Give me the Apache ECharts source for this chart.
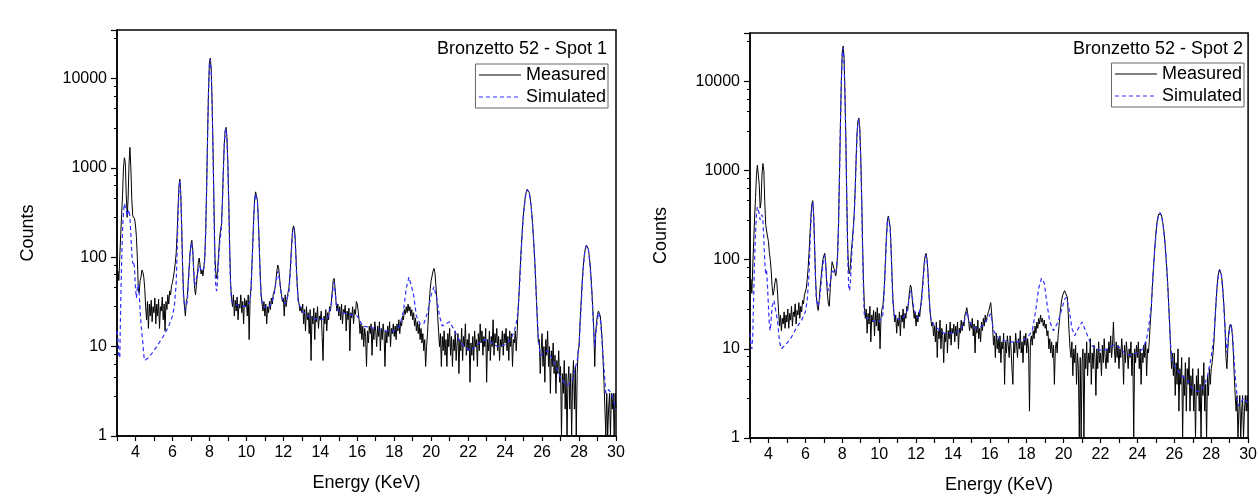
<!DOCTYPE html>
<html>
<head>
<meta charset="UTF-8">
<title>XRF spectra</title>
<script src="https://cdn.jsdelivr.net/npm/echarts@6/dist/echarts.min.js"></script>
</head>
<body style="margin:0;background:#fff;">
<div id="chart" style="width:1260px;height:499px;"></div>
<script>
// detector channels: 3.00 keV to 30.00 keV, 0.05 keV apart
var energyStart = 3;
var energyStep = 0.05;

var yTickLabels = [1, 10, 100, 1000, 10000];
var seriesNames = ['Measured', 'Simulated'];
var titles = ['Bronzetto 52 - Spot 1', 'Bronzetto 52 - Spot 2'];

// spot 1, measured counts (one row per keV)
var measured1 = [
    45, 70, 55, 100, 180, 300, 500, 1000, 1300, 1150, 500, 280, 450, 1100, 1700, 1000, 450, 290, 280, 270,
    230, 170, 100, 45, 40, 55, 60, 72, 68, 60, 45, 28, 20, 32, 16, 30, 22, 33, 19, 28,
    24, 35, 18, 30, 22, 34, 16, 28, 25, 36, 20, 30, 15, 32, 26, 38, 30, 42, 38, 48,
    52, 60, 70, 85, 110, 180, 340, 620, 750, 520, 220, 80, 40, 28, 22, 32, 35, 50, 75, 110,
    140, 155, 120, 70, 45, 38, 50, 65, 88, 98, 80, 65, 72, 62, 78, 100, 200, 600, 2200, 7000,
    15000, 17000, 12500, 5000, 1500, 350, 100, 65, 58, 75, 110, 160, 200, 230, 400, 900, 1800, 2600, 2850, 2200,
    1100, 400, 120, 50, 35, 28, 38, 22, 33, 25, 36, 20, 30, 27, 38, 24, 32, 18, 35, 28,
    33, 22, 38, 12, 34, 45, 80, 150, 290, 450, 540, 550, 430, 260, 130, 65, 38, 30, 25, 32,
    22, 30, 18, 28, 24, 32, 26, 35, 30, 38, 40, 45, 55, 70, 82, 75, 58, 45, 38, 32,
    35, 22, 38, 28, 34, 40, 45, 60, 90, 140, 200, 225, 210, 150, 85, 50, 35, 30, 25, 28,
    24, 30, 18, 26, 15, 28, 20, 24, 14, 26, 7, 22, 18, 27, 12, 24, 19, 28, 16, 22,
    20, 25, 13, 7, 22, 18, 26, 15, 24, 20, 28, 25, 32, 42, 55, 58, 45, 32, 25, 30,
    22, 28, 20, 30, 18, 26, 24, 29, 15, 25, 20, 27, 9, 24, 21, 28, 18, 26, 23, 32,
    30, 25, 20, 14, 18, 12, 17, 10, 16, 13, 6, 15, 11, 17, 14, 18, 8, 16, 12, 19,
    15, 10, 17, 13, 19, 9, 16, 12, 18, 14, 6, 15, 11, 17, 13, 19, 10, 16, 14, 18,
    13, 17, 12, 18, 15, 20, 14, 19, 17, 22, 20, 26, 23, 28, 24, 30, 25, 28, 22, 26,
    20, 24, 17, 21, 15, 19, 14, 18, 12, 16, 11, 14, 9, 12, 6, 10, 14, 22, 32, 45,
    55, 62, 70, 75, 68, 50, 35, 22, 15, 10, 14, 6, 13, 9, 15, 8, 12, 6, 14, 10,
    16, 8, 13, 6, 12, 9, 15, 7, 11, 14, 5, 12, 9, 16, 7, 13, 10, 18, 8, 12,
    9, 14, 4, 11, 8, 13, 7, 15, 10, 12, 6, 14, 9, 18, 11, 15, 8, 13, 10, 16,
    4, 12, 9, 15, 7, 13, 10, 20, 8, 14, 11, 16, 9, 13, 7, 12, 10, 15, 8, 14,
    11, 16, 9, 13, 7, 15, 10, 14, 6, 12, 11, 15, 9, 14, 25, 38, 65, 105, 160, 235,
    320, 405, 490, 545, 578, 575, 535, 470, 385, 300, 215, 148, 95, 58, 32, 18, 11, 12, 5, 9,
    14, 6, 10, 4, 12, 8, 15, 6, 10, 3, 9, 6, 11, 5, 8, 3, 7, 5, 9, 4,
    6, 1, 5, 3, 7, 2, 5, 1, 4, 6, 2, 5, 1, 4, 7, 2, 6, 1, 5, 9,
    10, 18, 28, 45, 65, 90, 112, 128, 137, 135, 125, 105, 82, 60, 40, 25, 15, 6, 14, 19,
    23, 25, 25, 22, 17, 12, 7, 4, 2, 1, 3, 1, 2, 3, 1, 3, 2, 3, 1, 3,
    2
];

// spot 2, measured counts
var measured2 = [
    45, 60, 42, 85, 160, 300, 500, 900, 1150, 1200, 700, 380, 450, 900, 1200, 1000, 450, 250, 210, 220,
    160, 120, 100, 75, 50, 40, 45, 55, 62, 58, 40, 26, 18, 24, 16, 22, 19, 26, 17, 24,
    20, 28, 17, 25, 21, 30, 18, 26, 23, 32, 19, 27, 24, 33, 22, 30, 26, 35, 32, 40,
    42, 48, 60, 80, 120, 190, 300, 420, 460, 330, 150, 65, 38, 30, 27, 35, 48, 62, 80, 100,
    110, 118, 95, 60, 40, 32, 30, 48, 70, 95, 100, 80, 72, 66, 80, 120, 260, 900, 3200, 10000,
    21000, 25000, 18000, 7000, 2000, 450, 130, 75, 70, 90, 130, 170, 230, 330, 600, 1300, 2600, 3600, 3900, 3000,
    1500, 550, 160, 60, 30, 22, 28, 15, 25, 19, 30, 12, 24, 20, 27, 14, 26, 18, 29, 16,
    25, 10, 22, 28, 30, 40, 60, 110, 190, 280, 310, 300, 230, 130, 65, 35, 25, 20, 24, 15,
    22, 18, 26, 14, 24, 20, 28, 17, 25, 22, 30, 27, 35, 45, 52, 48, 35, 28, 22, 26,
    18, 24, 20, 26, 23, 30, 38, 50, 70, 95, 112, 118, 100, 70, 42, 28, 22, 18, 20, 14,
    18, 12, 20, 8, 16, 13, 21, 10, 17, 14, 7, 15, 12, 19, 9, 16, 13, 20, 11, 17,
    15, 19, 12, 18, 14, 20, 10, 17, 15, 21, 16, 20, 18, 24, 26, 29, 25, 21, 16, 20,
    17, 22, 14, 19, 9, 18, 15, 21, 13, 17, 12, 20, 16, 22, 18, 24, 20, 23, 22, 27,
    30, 33, 25, 18, 11, 14, 8, 15, 10, 13, 9, 14, 7, 12, 10, 15, 4, 12, 9, 14,
    11, 8, 14, 10, 6, 4, 12, 9, 15, 11, 8, 13, 10, 16, 9, 12, 7, 14, 11, 15,
    9, 13, 10, 2, 12, 14, 11, 16, 13, 18, 15, 20, 17, 22, 19, 24, 20, 22, 18, 21,
    17, 19, 14, 16, 10, 13, 9, 12, 8, 11, 4, 10, 12, 9, 14, 18, 24, 30, 36, 40,
    42, 45, 44, 46, 38, 25, 15, 10, 8, 12, 5, 10, 7, 11, 4, 9, 6, 1, 8, 1,
    7, 10, 1, 9, 6, 12, 5, 9, 7, 13, 4, 9, 6, 11, 8, 3, 10, 6, 12, 7,
    9, 5, 11, 7, 13, 8, 6, 10, 7, 12, 9, 14, 8, 11, 20, 10, 7, 12, 8, 11,
    6, 10, 8, 13, 9, 4, 11, 7, 12, 9, 6, 10, 8, 12, 5, 9, 1, 10, 7, 11,
    8, 12, 6, 10, 4, 9, 7, 11, 8, 12, 5, 10, 9, 13, 20, 28, 45, 70, 100, 145,
    195, 250, 295, 325, 340, 338, 318, 285, 240, 195, 150, 108, 75, 50, 30, 18, 10, 6, 9, 5,
    9, 3, 7, 4, 10, 2, 6, 4, 8, 1, 5, 3, 7, 2, 6, 4, 8, 2, 5, 3,
    6, 2, 4, 1, 5, 3, 6, 2, 4, 1, 5, 3, 7, 2, 4, 1, 5, 3, 6, 4,
    6, 7, 9, 12, 20, 30, 45, 60, 72, 78, 76, 68, 56, 40, 28, 17, 8, 6, 10, 15,
    18, 19, 18, 14, 9, 5, 3, 2, 3, 1, 2, 3, 1, 2, 3, 1, 2, 3, 2, 3,
    2
];

// simulated spectra, [energy keV, counts]
var simulated1 = [
    [3.0, 15], [3.05, 12], [3.1, 8], [3.15, 7.5], [3.2, 30], [3.25, 90], [3.3, 200], [3.35, 320], [3.4, 400],
    [3.45, 400], [3.5, 330], [3.55, 290], [3.6, 320], [3.65, 340], [3.7, 280], [3.75, 180], [3.8, 110],
    [3.85, 85], [3.9, 90], [3.95, 75], [4.0, 45], [4.05, 35], [4.1, 45], [4.15, 50], [4.2, 40], [4.25, 25],
    [4.3, 18], [4.35, 14], [4.4, 11], [4.45, 8], [4.5, 7], [4.7, 7.5], [5.0, 9], [5.5, 13], [5.8, 17],
    [6.0, 22], [6.1, 28], [6.2, 50], [6.25, 110], [6.3, 280], [6.35, 560], [6.4, 720], [6.45, 520],
    [6.5, 220], [6.55, 75], [6.6, 35], [6.7, 26], [6.8, 32], [6.9, 70], [6.95, 105], [7.0, 135],
    [7.05, 145], [7.1, 115], [7.15, 72], [7.2, 48], [7.3, 50], [7.4, 72], [7.45, 80], [7.5, 76], [7.6, 70],
    [7.7, 75], [7.75, 95], [7.8, 190], [7.85, 580], [7.9, 2100], [7.95, 6800], [8.0, 14500], [8.05, 16500],
    [8.1, 12000], [8.15, 4800], [8.2, 1400], [8.25, 300], [8.3, 80], [8.35, 45], [8.4, 42], [8.45, 60],
    [8.5, 95], [8.55, 140], [8.6, 170], [8.65, 210], [8.7, 380], [8.75, 850], [8.8, 1700], [8.85, 2500],
    [8.9, 2750], [8.95, 2100], [9.0, 1000], [9.05, 350], [9.1, 100], [9.15, 45], [9.2, 32], [9.5, 29],
    [10.0, 28], [10.2, 32], [10.25, 42], [10.3, 75], [10.35, 140], [10.4, 270], [10.45, 430], [10.5, 510],
    [10.55, 520], [10.6, 410], [10.65, 245], [10.7, 120], [10.75, 60], [10.8, 36], [10.9, 28], [11.2, 27],
    [11.4, 32], [11.5, 38], [11.6, 52], [11.7, 70], [11.75, 68], [11.8, 55], [11.9, 36], [12.1, 30],
    [12.3, 40], [12.4, 80], [12.45, 130], [12.5, 190], [12.55, 210], [12.6, 195], [12.65, 140], [12.7, 75],
    [12.8, 32], [13.0, 25], [13.5, 21], [14.0, 20], [14.4, 21], [14.6, 30], [14.7, 48], [14.75, 52],
    [14.8, 42], [14.9, 26], [15.2, 24], [15.6, 23], [16.0, 22], [16.3, 17], [17.0, 16], [17.5, 15],
    [18.0, 15], [18.3, 17], [18.5, 25], [18.65, 45], [18.8, 60], [18.9, 58], [19.05, 38], [19.2, 22],
    [19.4, 18], [19.6, 18], [19.8, 24], [20.0, 38], [20.15, 47], [20.3, 35], [20.45, 22], [20.6, 17],
    [20.8, 18], [21.0, 19], [21.2, 16], [21.5, 12], [21.8, 10], [22.1, 9], [22.4, 10], [22.7, 11.5],
    [23.0, 12], [23.3, 11], [23.6, 10], [24.0, 10.5], [24.3, 12], [24.5, 15], [24.6, 18], [24.7, 25],
    [24.8, 55], [24.9, 150], [25.0, 310], [25.1, 480], [25.2, 570], [25.25, 575], [25.3, 535], [25.4, 385],
    [25.5, 215], [25.6, 95], [25.7, 32], [25.8, 12], [25.9, 8], [26.0, 8], [26.3, 9], [26.6, 7], [27.0, 4.5],
    [27.3, 3.7], [27.6, 4], [27.9, 7], [28.0, 10], [28.1, 25], [28.2, 62], [28.3, 110], [28.4, 135],
    [28.45, 134], [28.5, 125], [28.6, 80], [28.7, 38], [28.8, 14], [28.85, 10], [28.95, 17], [29.05, 24],
    [29.15, 21], [29.3, 8], [29.45, 3], [29.6, 3.3], [29.75, 3], [30.0, 2]
];

var simulated2 = [
    [3.0, 15], [3.05, 11], [3.1, 10], [3.15, 14], [3.2, 40], [3.25, 100], [3.3, 200], [3.35, 320], [3.4, 390],
    [3.45, 400], [3.5, 330], [3.55, 280], [3.6, 300], [3.65, 320], [3.7, 270], [3.75, 170], [3.8, 95],
    [3.85, 70], [3.9, 75], [3.95, 50], [4.0, 30], [4.05, 18], [4.1, 16], [4.15, 22], [4.2, 30], [4.3, 35],
    [4.4, 34], [4.5, 20], [4.6, 12], [4.7, 10], [4.9, 11], [5.2, 13], [5.5, 17], [5.8, 21], [6.0, 26],
    [6.1, 35], [6.2, 70], [6.25, 140], [6.3, 260], [6.35, 390], [6.4, 440], [6.45, 320], [6.5, 140],
    [6.55, 60], [6.6, 35], [6.7, 30], [6.8, 40], [6.9, 70], [7.0, 105], [7.05, 112], [7.1, 90], [7.15, 58],
    [7.25, 45], [7.35, 55], [7.45, 75], [7.55, 72], [7.65, 70], [7.75, 110], [7.8, 250], [7.85, 850],
    [7.9, 3000], [7.95, 9500], [8.0, 20000], [8.05, 24000], [8.1, 17000], [8.15, 6500], [8.2, 1800],
    [8.25, 400], [8.3, 100], [8.35, 50], [8.4, 45], [8.45, 60], [8.5, 100], [8.55, 150], [8.6, 210],
    [8.65, 310], [8.7, 580], [8.75, 1250], [8.8, 2500], [8.85, 3500], [8.9, 3800], [8.95, 2900],
    [9.0, 1400], [9.05, 500], [9.1, 140], [9.15, 45], [9.2, 23], [9.6, 21], [10.0, 20], [10.2, 24],
    [10.25, 35], [10.3, 55], [10.35, 100], [10.4, 180], [10.45, 265], [10.5, 300], [10.55, 290],
    [10.6, 220], [10.65, 125], [10.7, 60], [10.75, 32], [10.85, 22], [11.2, 21], [11.5, 26], [11.6, 33],
    [11.7, 45], [11.75, 47], [11.8, 38], [11.9, 27], [12.1, 22], [12.3, 33], [12.4, 62], [12.45, 88],
    [12.5, 105], [12.55, 112], [12.6, 98], [12.65, 68], [12.7, 40], [12.8, 22], [13.0, 18], [13.5, 15],
    [14.0, 15], [14.4, 16], [14.6, 20], [14.75, 26], [14.9, 20], [15.2, 17], [15.6, 18], [15.9, 22],
    [16.05, 25], [16.2, 16], [16.5, 13], [17.0, 12], [17.5, 12], [18.0, 13], [18.3, 16], [18.5, 28],
    [18.65, 48], [18.8, 62], [18.95, 55], [19.1, 32], [19.25, 20], [19.45, 16], [19.7, 20], [19.9, 28],
    [20.05, 36], [20.15, 38], [20.3, 28], [20.45, 17], [20.6, 14], [20.8, 17], [21.0, 20], [21.1, 20],
    [21.3, 14], [21.5, 11], [21.8, 10], [22.1, 9.5], [22.4, 10], [22.7, 11], [23.0, 10.5], [23.3, 9],
    [23.6, 8.5], [24.0, 9], [24.3, 10], [24.5, 13], [24.65, 20], [24.75, 30], [24.85, 68], [24.95, 140],
    [25.05, 245], [25.15, 320], [25.22, 338], [25.3, 315], [25.4, 240], [25.5, 150], [25.6, 75],
    [25.7, 30], [25.8, 11], [25.9, 7], [26.1, 6], [26.4, 5], [26.7, 4.5], [27.0, 3.5], [27.3, 3.3],
    [27.6, 3.8], [27.8, 5], [28.0, 8], [28.15, 14], [28.3, 44], [28.4, 70], [28.47, 77], [28.55, 68],
    [28.65, 40], [28.75, 17], [28.85, 9], [28.95, 14], [29.05, 19], [29.15, 15], [29.3, 5], [29.45, 2.3],
    [29.6, 2.5], [29.75, 2.8], [29.9, 2.6], [30.0, 2.5]
];

var chart = echarts.init(document.getElementById('chart'), null, {renderer: 'canvas'});
var font = 'Arial, "Liberation Sans", sans-serif';

function withEnergy(counts) {
    var pts = [];
    for (var i = 0; i < counts.length; i++) {
        pts.push([+(energyStart + i * energyStep).toFixed(2), counts[i]]);
    }
    return pts;
}

function xAxisFor(index) {
    return {
        type: 'value', gridIndex: index, min: 3, max: 30, interval: 1,
        name: 'Energy (KeV)', nameLocation: 'middle', nameGap: 38,
        nameTextStyle: {fontSize: 18, color: '#000', fontFamily: font},
        axisLine: {onZero: false, lineStyle: {color: '#000', width: 1.5}},
        axisTick: {length: 5, lineStyle: {color: '#000', width: 1.2}},
        axisLabel: {
            fontSize: 16, color: '#000', fontFamily: font, margin: 9,
            formatter: function (v) { return v % 2 === 0 ? String(v) : ''; }
        },
        splitLine: {show: false}
    };
}

function yAxisFor(index) {
    return {
        type: 'log', logBase: 10, gridIndex: index, min: 1, max: 35000,
        name: 'Counts', nameLocation: 'middle', nameGap: 80,
        nameTextStyle: {fontSize: 18, color: '#000', fontFamily: font},
        axisLine: {lineStyle: {color: '#000', width: 1.5}},
        axisTick: {length: 6, lineStyle: {color: '#000', width: 1.2}},
        minorTick: {show: true, length: 3, lineStyle: {color: '#000', width: 1}},
        axisLabel: {
            fontSize: 16, color: '#000', fontFamily: font, margin: 10, showMaxLabel: false,
            formatter: function (v) {
                for (var i = 0; i < yTickLabels.length; i++) {
                    if (Math.abs(v - yTickLabels[i]) < 1e-6 * yTickLabels[i]) return String(yTickLabels[i]);
                }
                return '';
            }
        },
        splitLine: {show: false}
    };
}

function legendFor(right, top) {
    return {
        data: seriesNames, orient: 'vertical', right: right, top: top,
        itemWidth: 42, itemHeight: 12, itemGap: 4, padding: [2, 2, 2, 3],
        borderColor: '#666', borderWidth: 1, backgroundColor: '#fff',
        itemStyle: {opacity: 0},
        lineStyle: {width: 1},
        textStyle: {fontSize: 18, color: '#000', fontFamily: font, padding: [0, 0, 0, 0]}
    };
}

function seriesFor(index, measured, simulated) {
    return [{
        name: seriesNames[0], type: 'line', xAxisIndex: index, yAxisIndex: index,
        data: withEnergy(measured), symbol: 'none', animation: false,
        lineStyle: {color: '#000', width: 1}, itemStyle: {color: '#000'}
    }, {
        name: seriesNames[1], type: 'line', xAxisIndex: index, yAxisIndex: index,
        data: simulated, symbol: 'none', animation: false, z: 3,
        lineStyle: {color: '#2f2fff', width: 1.2, type: [4, 3]}, itemStyle: {color: '#2f2fff'}
    }];
}

var option = {
    backgroundColor: '#fff',
    animation: false,
    grid: [
        {left: 117, top: 30, width: 499, height: 406, show: true, borderColor: '#000', borderWidth: 1.5},
        {left: 750, top: 33, width: 501, height: 408, show: true, borderColor: '#000', borderWidth: 1.5}
    ],
    title: [
        {text: titles[0], right: 653, top: 40, padding: 0,
            textStyle: {fontSize: 18, fontWeight: 'normal', color: '#000', fontFamily: font}},
        {text: titles[1], right: 17, top: 40, padding: 0,
            textStyle: {fontSize: 18, fontWeight: 'normal', color: '#000', fontFamily: font}}
    ],
    legend: [legendFor(652, 64), legendFor(16, 63)],
    xAxis: [xAxisFor(0), xAxisFor(1)],
    yAxis: [yAxisFor(0), yAxisFor(1)],
    series: seriesFor(0, measured1, simulated1).concat(seriesFor(1, measured2, simulated2))
};

chart.setOption(option);
</script>
</body>
</html>
